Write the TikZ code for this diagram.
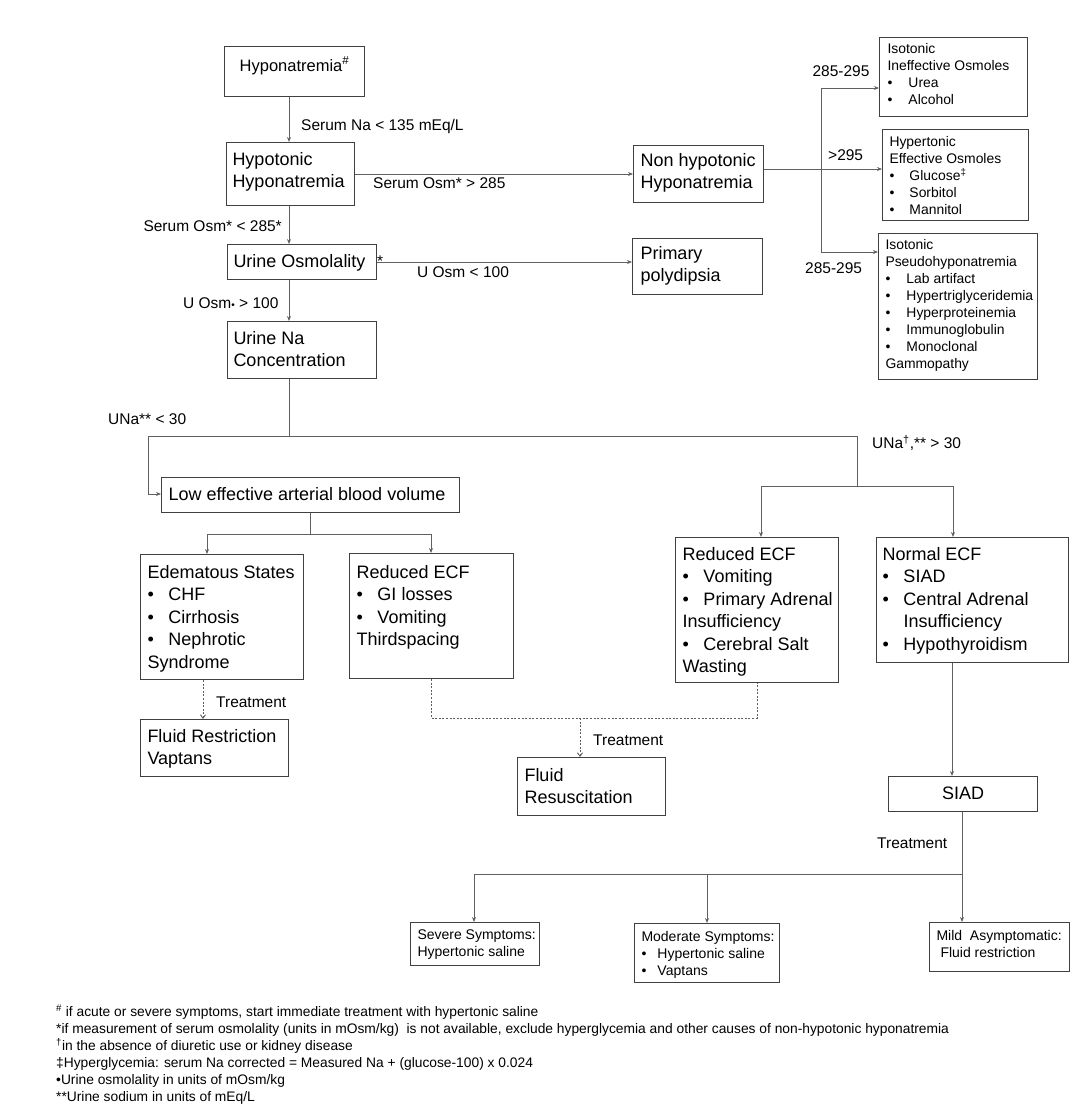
\documentclass[tikz,border=0pt]{standalone}
\usepackage{fontspec}
\setmainfont{Liberation Sans}
\usetikzlibrary{arrows.meta,calc}
\definecolor{linec}{HTML}{606060}
\definecolor{boxc}{HTML}{404040}
\newcommand\fbig{\fontsize{18}{22.5}\selectfont}
\newcommand\fhypo{\fontsize{16.5}{22.5}\selectfont}
\newcommand\fsmall{\fontsize{13.9}{17}\selectfont}
\newcommand\fbot{\fontsize{14}{17}\selectfont}
\newcommand\flab{\fontsize{15.5}{18}\selectfont}
\newcommand\ffoot{\fontsize{13.8}{16.9}\selectfont}
% #1 width, #2 height, #3 first baseline, #4 left pad, #5 content
\newcommand\bxc[5]{\parbox[c][#2pt][t]{#1pt}{\leftskip=#4pt\rightskip=0pt plus 1fil\parindent=0pt\rule{0pt}{#3pt}#5}}
\newcommand\bxcc[4]{\parbox[c][#2pt][t]{#1pt}{\centering\rule{0pt}{#3pt}#4}}
\newcommand\itm[2]{\par\makebox[#1pt][l]{•}#2}
\begin{document}
\begin{tikzpicture}[x=1pt,y=-1pt,
  box/.style={draw=boxc, line width=1pt, inner sep=0pt, anchor=north west},
  lab/.style={inner sep=0pt, font=\flab},
  line/.style={draw=linec, line width=0.9pt},
  conn/.style={line, -{Stealth[length=5pt,width=4pt]}},
  dline/.style={line, dash pattern=on 2pt off 1.6pt},
  dconn/.style={dline, -{Straight Barb[length=3.5pt,width=5pt]}}]
\useasboundingbox (0,0) rectangle (1073,1106);
% ---------- boxes ----------
\node[box] (hypo) at (224,46) {\fhypo\bxcc{140}{50}{24.5}{Hyponatremia\textsuperscript{\#}}};
\node[box] (hypot) at (226,142) {\fbig\bxc{128}{63}{22.5}{6}{Hypotonic\\Hyponatremia}};
\node[box] (uosm) at (227,244) {\fbig\bxc{149}{35}{22.5}{6}{Urine Osmolality}};
\node[box] (una) at (227,321) {\fbig\bxc{149}{57}{22.5}{6}{Urine Na\\Concentration}};
\node[box] (nonh) at (633,145) {\fbig\bxc{130}{57}{20.5}{7}{Non hypotonic\\Hyponatremia}};
\node[box] (ppoly) at (632,238) {\fbig\bxc{130}{56}{20.5}{8}{Primary\\polydipsia}};
\node[box] (iso1) at (879,37) {\fsmall\bxc{148}{79}{16}{8}{Isotonic\\Ineffective Osmoles\itm{21}{Urea}\itm{21}{Alcohol}}};
\node[box] (hyper) at (882,129) {\fsmall\bxc{146}{91}{17}{7}{Hypertonic\\Effective Osmoles\itm{20}{Glucose\textsuperscript{‡}}\itm{20}{Sorbitol}\itm{20}{Mannitol}}};
\node[box] (pseudo) at (878,233) {\fsmall\bxc{159}{146}{16}{7}{Isotonic\\Pseudohyponatremia\itm{21}{Lab artifact}\itm{21}{Hypertriglyceridemia}\itm{21}{Hyperproteinemia}\itm{21}{Immunoglobulin}\itm{21}{Monoclonal}\\Gammopathy}};
\node[box] (low) at (161,477) {\fbig\bxc{298}{35}{22.5}{7}{Low~effective~arterial~blood~volume}};
\node[box] (edem) at (140,554) {\fbig\bxc{163}{125}{23.5}{7}{Edematous~States\itm{21}{CHF}\itm{21}{Cirrhosis}\itm{21}{Nephrotic}\\Syndrome}};
\node[box] (redl) at (349,553) {\fbig\bxc{164}{125}{24.5}{7}{Reduced ECF\itm{21}{GI losses}\itm{21}{Vomiting}\\Thirdspacing}};
\node[box] (fluidr) at (140,719) {\fbig\bxc{148}{57}{22.5}{7}{Fluid~Restriction\\Vaptans}};
\node[box] (fresus) at (517,757) {\fbig\bxc{148}{58}{23.5}{7}{Fluid\\Resuscitation}};
\node[box] (redr) at (675,537) {\fbig\bxc{163}{145}{22.5}{7}{Reduced ECF\itm{21}{Vomiting}\itm{21}{Primary~Adrenal}\\Insufficiency\itm{21}{Cerebral~Salt}\\Wasting}};
\node[box] (norm) at (876,537) {\fbig\bxc{192}{125}{22.5}{6}{Normal ECF\itm{21}{SIAD}\itm{21}{Central~Adrenal}\\\hspace*{21pt}Insufficiency\itm{21}{Hypothyroidism}}};
\node[box] (siad) at (888,776) {\fbig\bxcc{149}{35}{22.5}{SIAD}};
\node[box] (sev) at (410,922) {\fbot\bxc{129}{43}{17}{7}{Severe~Symptoms:\\Hypertonic~saline}};
\node[box] (mod) at (634,923) {\fbot\bxc{145}{59}{18}{7}{Moderate~Symptoms:\itm{16}{Hypertonic~saline}\itm{16}{Vaptans}}};
\node[box] (mild) at (929,922) {\fbot\bxc{140}{49}{18}{7}{Mild~~Asymptomatic:\\\hspace*{4pt}Fluid~restriction}};
% ---------- labels ----------
\node[lab, anchor=base west] (l1) at (301,130.5) {Serum Na < 135 mEq/L};
\node[lab, anchor=base west] (l2) at (373,188.5) {Serum Osm* > 285};
\node[lab, anchor=base east] (l3) at (282,231.5) {Serum Osm* < 285*};
\node[lab, anchor=base west] (l4) at (377,266) {*};
\node[lab, anchor=base west] (l5) at (417,277.5) {U Osm < 100};
\node[lab, anchor=base west] (l6) at (183,308.5) {U Osm{\fontsize{10}{10}\selectfont•} > 100};
\node[lab, anchor=base] (l7) at (841,76.5) {285-295};
\node[lab, anchor=base west] (l8) at (828,160.5) {>295};
\node[lab, anchor=base west] (l9) at (805,273.5) {285-295};
\node[lab, anchor=base west] (l10) at (108,424.5) {UNa** < 30};
\node[lab, anchor=base west] (l11) at (872,448.5) {UNa\textsuperscript{†},** > 30};
\node[lab, anchor=base west] (l12) at (216,707.5) {Treatment};
\node[lab, anchor=base west] (l13) at (593,745.5) {Treatment};
\node[lab, anchor=base west] (l14) at (877,848.5) {Treatment};
% ---------- connectors ----------
\coordinate (c1) at (289,0);
\draw[conn] (hypo.south -| c1) -- (hypot.north -| c1);
\draw[conn] (hypot.east) -- (nonh.west |- hypot.east);
\draw[conn] (hypot.south -| c1) -- (uosm.north -| c1);
\draw[conn] (uosm.east) -- (ppoly.west |- uosm.east);
\draw[conn] (uosm.south -| c1) -- (una.north -| c1);
\coordinate (jn) at (821,169);
\coordinate (jt) at (821,88);
\coordinate (jb) at (821,252);
\draw[line] (nonh.east |- jn) -- (jn);
\draw[line] (jt) -- (jb);
\draw[conn] (jt) -- (iso1.west |- jt);
\draw[conn] (jn) -- (hyper.west |- jn);
\draw[conn] (jb) -- (pseudo.west |- jb);
\coordinate (u1) at (289,436);
\coordinate (uL) at (148,436);
\coordinate (uR) at (857,436);
\coordinate (uL2) at (148,494);
\draw[line] (una.south -| u1) -- (u1);
\draw[line] (uL) -- (uR);
\draw[conn] (uL) -- (uL2) -- (low.west |- uL2);
\coordinate (r1) at (857,486);
\coordinate (rL) at (761,486);
\coordinate (rR) at (953,486);
\draw[line] (uR) -- (r1);
\draw[line] (rL) -- (rR);
\draw[conn] (rL) -- (redr.north -| rL);
\draw[conn] (rR) -- (norm.north -| rR);
\coordinate (k1) at (310,534);
\coordinate (kL) at (207,534);
\coordinate (kR) at (431,534);
\draw[line] (low.south -| k1) -- (k1);
\draw[line] (kL) -- (kR);
\draw[conn] (kL) -- (edem.north -| kL);
\draw[conn] (kR) -- (redl.north -| kR);
\coordinate (e1) at (203,0);
\draw[dconn] (edem.south -| e1) -- (fluidr.north -| e1);
\coordinate (dL) at (431,718);
\coordinate (dR) at (757,718);
\coordinate (dM) at (580,718);
\draw[dline] (redl.south -| dL) -- (dL) -- (dR) -- (redr.south -| dR);
\draw[dconn] (dM) -- (fresus.north -| dM);
\coordinate (s1) at (952,0);
\draw[conn] (norm.south -| s1) -- (siad.north -| s1);
\coordinate (t1) at (962,874);
\coordinate (tL) at (474,874);
\coordinate (tM) at (707,874);
\draw[line] (siad.south -| t1) -- (t1);
\draw[conn] (t1) -- (mild.north -| t1);
\draw[line] (tL) -- (t1);
\draw[conn] (tL) -- (sev.north -| tL);
\draw[conn] (tM) -- (mod.north -| tM);
% ---------- footnotes ----------
\node[inner sep=0pt, anchor=north west] (foot) at (56,1000) {\ffoot\parbox[t]{1000pt}{\parindent=0pt\rule{0pt}{16.7pt}\textsuperscript{\#} if acute or severe symptoms, start immediate treatment with hypertonic saline\par
*if measurement of serum osmolality (units in mOsm/kg)\ \ is not available, exclude hyperglycemia and other causes of non-hypotonic hyponatremia\par
\textsuperscript{†}in the absence of diuretic use or kidney disease\par
‡Hyperglycemia: serum Na corrected = Measured Na + (glucose-100) x 0.024\par
•Urine osmolality in units of mOsm/kg\par
**Urine sodium in units of mEq/L}};
\end{tikzpicture}
\end{document}
